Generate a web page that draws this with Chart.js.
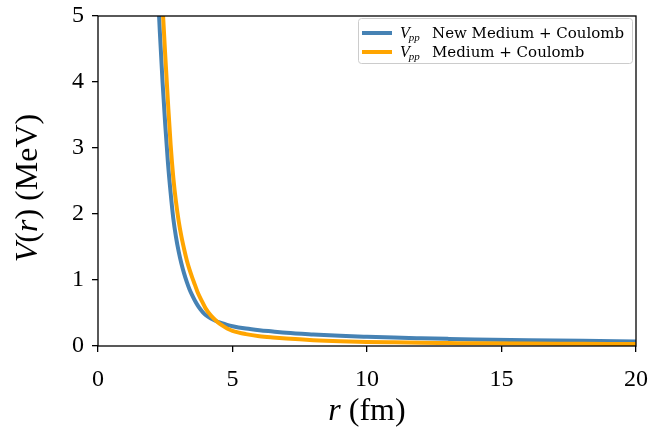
<!DOCTYPE html>
<html>
<head>
<meta charset="utf-8">
<script src="https://cdn.jsdelivr.net/npm/chart.js@4/dist/chart.umd.min.js"></script>
<style>
  html, body { margin: 0; padding: 0; background: #ffffff; }
  #wrap { position: relative; width: 651px; height: 435px; }
</style>
</head>
<body>
<div id="wrap"><canvas id="c" width="651" height="435"></canvas></div>
<script>
// ---- data ----
const rValues    = [2.2, 2.3, 2.4, 2.5, 2.6, 2.7, 2.8, 2.9, 3.0, 3.1, 3.2, 3.3, 3.4, 3.5, 3.6, 3.7, 3.8, 3.9, 4.0, 4.2, 4.4, 4.6, 4.8, 5.0, 5.5, 6.0, 6.5, 7.0, 8.0, 9.0, 10.0, 11.0, 12.0, 13.0, 14.0, 16.0, 18.0, 20.0];
const vNewMedium = [5.6, 4.75, 4.0, 3.35, 2.78, 2.32, 1.93, 1.65, 1.43, 1.25, 1.10, 0.97, 0.86, 0.77, 0.69, 0.62, 0.56, 0.51, 0.47, 0.415, 0.375, 0.345, 0.32, 0.30, 0.265, 0.24, 0.22, 0.20, 0.175, 0.155, 0.14, 0.127, 0.117, 0.108, 0.10, 0.088, 0.078, 0.07];
const vMedium    = [6.9, 6.0, 5.15, 4.4, 3.7, 3.05, 2.55, 2.18, 1.89, 1.66, 1.47, 1.30, 1.16, 1.04, 0.93, 0.82, 0.73, 0.65, 0.57, 0.46, 0.38, 0.315, 0.265, 0.23, 0.18, 0.148, 0.128, 0.112, 0.088, 0.072, 0.062, 0.055, 0.049, 0.045, 0.041, 0.036, 0.033, 0.03];
const seriesLabels = ['New Medium + Coulomb', 'Medium + Coulomb'];
const seriesColors = ['#4682b4', '#ffa500'];
const xTicks = [0, 5, 10, 15, 20];
const yTicks = [0, 1, 2, 3, 4, 5];
const xTitle = ['r', ' (fm)'];
const yTitle = ['V', '(', 'r', ') (MeV)'];

const SERIF = '"Liberation Serif", "DejaVu Serif", serif';
const LEG = '"DejaVu Serif", serif';

function pts(xs, ys) { return xs.map((x, i) => ({ x: x, y: ys[i] })); }
function noPad(s) { s.paddingLeft = 0; s.paddingRight = 0; s.paddingTop = 0; s.paddingBottom = 0; }

const framePlugin = {
  id: 'frame',
  afterDatasetsDraw(chart) {
    const { ctx, chartArea: a } = chart;
    ctx.save();
    ctx.strokeStyle = '#000';
    ctx.lineWidth = 1.3;
    ctx.strokeRect(a.left, a.top, a.right - a.left, a.bottom - a.top);
    ctx.restore();
  },
  afterDraw(chart) {
    const { ctx, chartArea: a } = chart;
    ctx.save();
    ctx.fillStyle = '#000';
    ctx.textBaseline = 'alphabetic';
    // x title
    const fs = 32;
    ctx.font = 'italic ' + fs + 'px ' + SERIF;
    const w1 = ctx.measureText(xTitle[0]).width;
    ctx.font = fs + 'px ' + SERIF;
    const w2 = ctx.measureText(xTitle[1]).width;
    let x0 = (a.left + a.right) / 2 - (w1 + w2) / 2;
    ctx.font = 'italic ' + fs + 'px ' + SERIF;
    ctx.fillText(xTitle[0], x0, 420);
    ctx.font = fs + 'px ' + SERIF;
    ctx.fillText(xTitle[1], x0 + w1, 420);
    // y title (rotated)
    ctx.translate(37, (a.top + a.bottom) / 2 + 7);
    ctx.rotate(-Math.PI / 2);
    const fonts = ['italic ', '', 'italic ', ''];
    let tot = 0; const ws = [];
    yTitle.forEach((t, i) => { ctx.font = fonts[i] + fs + 'px ' + SERIF; const w = ctx.measureText(t).width; ws.push(w); tot += w; });
    let cx = -tot / 2;
    yTitle.forEach((t, i) => { ctx.font = fonts[i] + fs + 'px ' + SERIF; ctx.fillText(t, cx, 0); cx += ws[i]; });
    ctx.restore();

    // legend
    ctx.save();
    const bx = 358, by = 18, bw = 274, bh = 45;
    ctx.fillStyle = 'rgba(255,255,255,0.8)';
    ctx.strokeStyle = '#cccccc';
    ctx.lineWidth = 1;
    ctx.beginPath();
    if (ctx.roundRect) ctx.roundRect(bx + 0.5, by + 0.5, bw, bh, 3); else ctx.rect(bx + 0.5, by + 0.5, bw, bh);
    ctx.fill(); ctx.stroke();
    chart.data.datasets.forEach((ds, i) => {
      const yy = 33 + i * 19;
      ctx.strokeStyle = ds.borderColor;
      ctx.lineWidth = 4;
      ctx.beginPath(); ctx.moveTo(362, yy); ctx.lineTo(392, yy); ctx.stroke();
      ctx.fillStyle = '#000';
      ctx.textBaseline = 'alphabetic';
      ctx.font = 'italic 16px ' + SERIF;
      ctx.fillText('V', 400, yy + 5);
      const vw = ctx.measureText('V').width;
      ctx.font = 'italic 11px ' + SERIF;
      ctx.fillText('pp', 400 + vw - 1, yy + 8);
      ctx.font = '15px ' + LEG;
      ctx.fillText(ds.label, 432, yy + 5);
    });
    ctx.restore();
  }
};

new Chart(document.getElementById('c'), {
  type: 'line',
  data: {
    datasets: [
      { label: seriesLabels[0], data: pts(rValues, vNewMedium), borderColor: seriesColors[0], backgroundColor: seriesColors[0],
        borderWidth: 4, pointRadius: 0, cubicInterpolationMode: 'monotone', fill: false, order: 1 },
      { label: seriesLabels[1], data: pts(rValues, vMedium), borderColor: seriesColors[1], backgroundColor: seriesColors[1],
        borderWidth: 4, pointRadius: 0, cubicInterpolationMode: 'monotone', fill: false, order: 0 }
    ]
  },
  options: {
    responsive: false,
    animation: false,
    devicePixelRatio: 1,
    layout: { padding: { left: 0, right: 15, top: 16, bottom: 0 } },
    plugins: { legend: { display: false }, tooltip: { enabled: false } },
    scales: {
      x: {
        type: 'linear', min: 0, max: 20,
        afterBuildTicks: s => { s.ticks = xTicks.map(v => ({ value: v })); },
        afterFit: s => { s.height = 89; noPad(s); },
        grid: { drawOnChartArea: false, drawTicks: true, tickLength: 6, color: '#000', lineWidth: 1.3 },
        border: { display: false },
        ticks: { color: '#000', font: { family: SERIF, size: 24 }, padding: 13, maxRotation: 0 }
      },
      y: {
        type: 'linear', min: 0, max: 5,
        afterBuildTicks: s => { s.ticks = yTicks.map(v => ({ value: v })); },
        afterFit: s => { s.width = 98; noPad(s); },
        grid: { drawOnChartArea: false, drawTicks: true, tickLength: 6, color: '#000', lineWidth: 1.3 },
        border: { display: false },
        ticks: { color: '#000', font: { family: SERIF, size: 24 }, padding: 8 }
      }
    }
  },
  plugins: [framePlugin]
});
</script>
</body>
</html>
